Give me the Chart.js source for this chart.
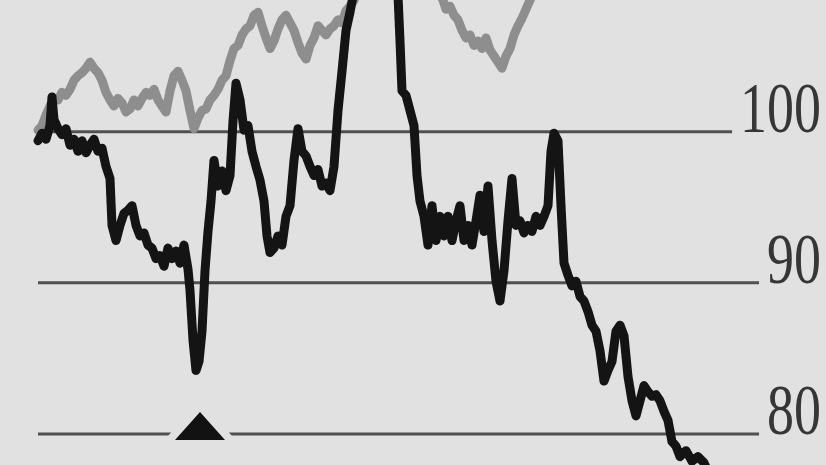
<!DOCTYPE html>
<html>
<head>
<meta charset="utf-8">
<script src="https://cdn.jsdelivr.net/npm/chart.js@4/dist/chart.umd.min.js"></script>
<style>
  html, body { margin: 0; padding: 0; background: #e1e1e1; }
  canvas { display: block; }
</style>
</head>
<body>
<canvas id="trendChart" width="826" height="465"></canvas>
<script>
// Black series: trading day index and index value
const blackDays = [0, 1, 2, 3, 3.5, 4, 5, 6, 7, 8, 9, 10, 11, 12, 13, 14, 15, 16, 17, 18, 18.5, 19.5, 20.5, 21.5, 22.5, 23.5, 24.5, 25.5, 26.5, 27.5, 28.5, 29.5, 30.5, 31.5, 32.5, 33.5, 34.5, 35.5, 36.5, 37.5, 38, 38.75, 39.5, 40.25, 41, 41.75, 42.5, 43.25, 44, 45, 46, 47, 48, 48.75, 49.5, 50.5, 51.5, 52.5, 53.5, 54.5, 55.5, 56.5, 57.25, 58, 59, 60, 61, 62, 63, 64, 65, 66, 67, 68, 69, 70, 71, 72, 73, 74, 75, 76, 77, 78, 79, 83, 86.75, 90, 90.5, 91, 92, 93, 94, 94.75, 95.5, 96.5, 97.5, 98.5, 99.5, 100.5, 101.5, 102.5, 103.5, 104.5, 105.5, 106.5, 107.5, 108.5, 109.5, 110.5, 111.5, 112.5, 113.5, 114.5, 115.5, 116.5, 117.5, 118.5, 119.5, 120.5, 121.5, 122.5, 123.5, 124.5, 125.5, 126.5, 127.5, 128.25, 129, 130, 130.75, 131.5, 132.5, 133.5, 134.5, 135.5, 136.5, 137.5, 138.5, 139.5, 140.5, 141.5, 142.5, 143.5, 144.5, 145.5, 146.5, 147.5, 148.5, 149.5, 150.5, 151.5, 152.5, 153.5, 154.5, 155.5, 156.5, 157.5, 158.5, 159.5, 160.5, 162, 163.5, 165, 166.5, 168];
const blackValues = [99.4, 99.9, 99.5, 100.4, 102.3, 100.8, 100.2, 99.8, 100.2, 99.1, 99.5, 98.7, 99.4, 98.6, 99.1, 99.5, 98.7, 98.9, 97.7, 96.9, 93.8, 92.8, 93.8, 94.6, 94.8, 95.1, 93.8, 93.1, 93.3, 92.5, 92.3, 91.6, 91.8, 91.1, 92.3, 91.6, 92.1, 91.3, 92.5, 90.9, 89.5, 86.2, 84.2, 84.8, 86.8, 90.8, 93.4, 95.4, 98.1, 96.4, 97.4, 96.1, 97.1, 100.7, 103.2, 102.1, 100.1, 100.4, 98.7, 97.7, 96.8, 95.4, 93.1, 92.0, 92.3, 93.1, 92.5, 94.4, 95.1, 98.1, 100.2, 98.7, 98.4, 97.7, 97.1, 97.5, 96.4, 96.6, 96.1, 97.7, 101.4, 104.0, 106.7, 107.9, 109.3, 110.7, 110.3, 109.0, 106.0, 102.7, 102.4, 101.4, 100.4, 97.1, 95.4, 94.4, 92.5, 95.1, 92.8, 94.4, 93.1, 94.4, 92.8, 94.1, 95.1, 92.8, 93.8, 92.5, 94.1, 95.8, 93.4, 96.4, 92.8, 90.1, 88.8, 90.8, 94.1, 96.9, 93.8, 94.1, 93.3, 93.8, 93.4, 94.4, 93.8, 94.4, 95.1, 98.7, 99.9, 99.4, 95.1, 91.3, 90.5, 89.8, 90.1, 89.1, 88.8, 88.1, 87.2, 86.8, 85.5, 83.5, 84.2, 84.8, 86.8, 87.2, 86.5, 83.8, 82.2, 81.2, 82.2, 83.2, 82.8, 82.5, 82.6, 82.2, 81.5, 80.9, 79.5, 79.2, 78.5, 78.9, 78.2, 78.5, 78.1, 77.2];

// Grey series
const greyDays = [0, 1, 2, 3, 4, 5, 6, 7, 8, 9, 10, 11, 12, 13, 14, 15, 16, 17, 18, 19, 20, 21, 22, 23, 24, 25, 26, 27, 28, 29, 30, 31, 32, 33, 34, 35, 36, 37, 38, 39, 40, 41, 42, 43, 44, 45, 46, 47, 48, 49, 50, 51, 52, 53, 54, 55, 56, 57, 58, 59, 60, 61, 62, 63, 64, 65, 66, 67, 68, 69, 70, 71, 72, 73, 74, 75, 76, 77, 78, 79, 80, 84.25, 89.25, 95.5, 100, 101.25, 102, 103, 104, 105, 106, 107, 108, 109, 110, 111, 112, 113, 114, 115, 116, 117, 118, 119, 120, 121, 122, 123, 124];
const greyValues = [100.1, 100.4, 101.1, 101.7, 102.2, 102.1, 102.6, 102.4, 102.8, 103.4, 103.7, 103.9, 104.2, 104.6, 104.2, 103.9, 103.4, 102.6, 102.1, 101.7, 102.2, 101.9, 101.3, 101.5, 102.1, 101.7, 102.2, 102.6, 102.4, 102.8, 102.1, 101.7, 101.3, 102.7, 103.7, 104.0, 103.4, 102.7, 101.4, 100.2, 100.9, 101.4, 101.5, 102.1, 102.4, 102.8, 103.4, 103.7, 104.7, 105.5, 105.7, 106.4, 106.8, 107.0, 107.7, 107.9, 107.0, 106.2, 105.5, 106.0, 106.8, 107.4, 107.7, 107.2, 106.7, 105.9, 105.2, 104.8, 105.7, 106.2, 107.0, 106.7, 106.4, 106.8, 107.0, 107.4, 107.2, 108.0, 108.3, 108.7, 109.3, 110.7, 111.3, 110.7, 109.3, 108.7, 108.1, 108.3, 107.7, 107.4, 106.7, 106.2, 106.4, 105.7, 106.0, 105.5, 106.2, 105.4, 105.0, 104.6, 104.2, 105.0, 105.5, 106.4, 107.0, 107.5, 108.1, 108.7, 109.3];

// Reference levels shown on the right
const tickValues = [100, 90, 80];
const gridStartDay = 0;

// Triangle marker on the 80 line
const markerDays = [40.5];
const markerValues = [80.53];

const bgColour = '#e1e1e1';
const gridColour = '#505050';
const labelStretch = 0.76;

function zip(xs, ys) {
    return xs.map((x, i) => ({ x: x, y: ys[i] }));
}

// flat triangle drawn on its own canvas, with a halo that cuts the grid line
function makeTriangle() {
    const c = document.createElement('canvas');
    c.width = 70;
    c.height = 48;
    const g = c.getContext('2d');
    g.beginPath();
    g.moveTo(35, 10);
    g.lineTo(60, 38);
    g.lineTo(10, 38);
    g.closePath();
    g.lineJoin = 'round';
    g.lineWidth = 16;
    g.strokeStyle = bgColour;
    g.stroke();
    g.fillStyle = '#121212';
    g.fill();
    return c;
}

const backgroundFill = {
    id: 'backgroundFill',
    beforeDraw(chart) {
        const ctx = chart.ctx;
        ctx.save();
        ctx.fillStyle = bgColour;
        ctx.fillRect(0, 0, chart.width, chart.height);
        ctx.restore();
    }
};

// grid lines stop just short of their labels
const refLines = {
    id: 'refLines',
    beforeDatasetsDraw(chart) {
        const { ctx, scales: { x, y } } = chart;
        const right = chart.width - 5;
        ctx.save();
        ctx.font = '71px "Liberation Serif", serif';
        tickValues.forEach(v => {
            const py = y.getPixelForValue(v);
            const text = String(v);
            const w = ctx.measureText(text).width * labelStretch;
            ctx.strokeStyle = gridColour;
            ctx.lineWidth = 3;
            ctx.beginPath();
            ctx.moveTo(x.getPixelForValue(gridStartDay), py);
            ctx.lineTo(right - w - 8, py);
            ctx.stroke();

            ctx.save();
            ctx.translate(right, py);
            ctx.scale(labelStretch, 1);
            ctx.fillStyle = '#363636';
            ctx.textAlign = 'right';
            ctx.textBaseline = 'alphabetic';
            ctx.fillText(text, 0, 0);
            ctx.restore();
        });
        ctx.restore();
    }
};

const ctx = document.getElementById('trendChart').getContext('2d');

new Chart(ctx, {
    type: 'line',
    data: {
        datasets: [
            {
                label: 'Marker',
                data: zip(markerDays, markerValues),
                showLine: false,
                pointStyle: makeTriangle(),
                pointRadius: 5,
                order: 0
            },
            {
                label: 'Black',
                data: zip(blackDays, blackValues),
                borderColor: '#141414',
                borderWidth: 9,
                pointRadius: 0,
                tension: 0,
                borderJoinStyle: 'round',
                borderCapStyle: 'round',
                order: 1
            },
            {
                label: 'Grey',
                data: zip(greyDays, greyValues),
                borderColor: '#8e8e8e',
                borderWidth: 9,
                pointRadius: 0,
                tension: 0,
                borderJoinStyle: 'round',
                borderCapStyle: 'round',
                order: 2
            }
        ]
    },
    options: {
        responsive: false,
        animation: false,
        devicePixelRatio: 1,
        layout: { padding: 0, autoPadding: false },
        plugins: {
            legend: { display: false },
            tooltip: { enabled: false }
        },
        scales: {
            x: {
                type: 'linear',
                min: -9.5,
                max: 197,
                display: false
            },
            y: {
                type: 'linear',
                min: 77.95,
                max: 108.71,
                display: false
            }
        }
    },
    plugins: [backgroundFill, refLines]
});
</script>
</body>
</html>
